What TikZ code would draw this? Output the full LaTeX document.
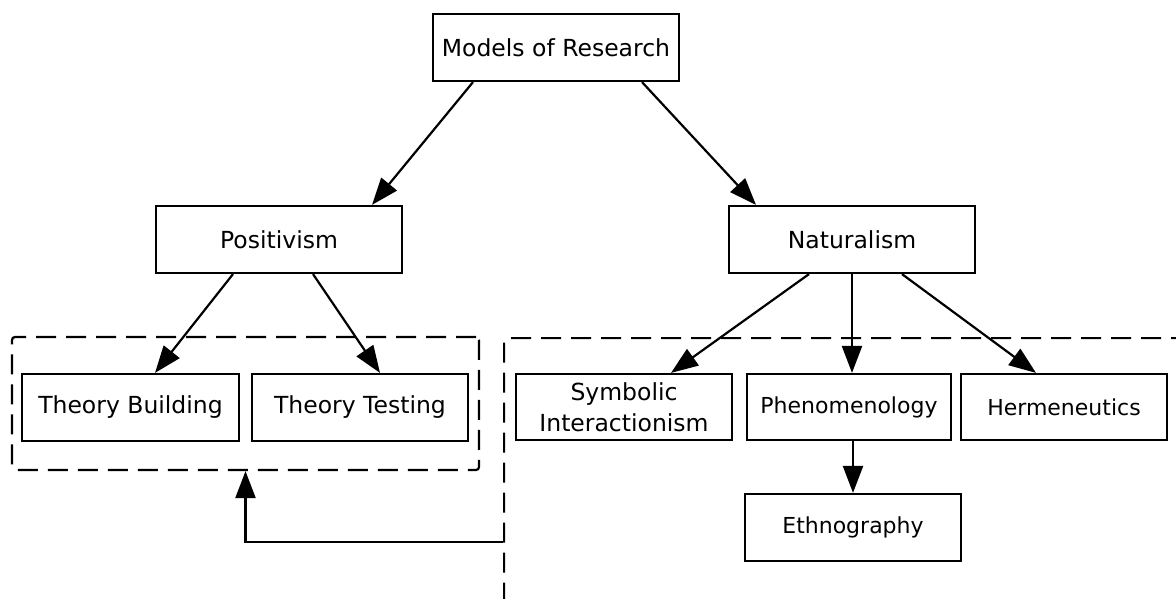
\documentclass[tikz,border=0pt]{standalone}
\usepackage{fontspec}
\setmainfont{DejaVu Sans}
\usetikzlibrary{arrows.meta}
\tikzset{
  box/.style={draw, line width=2.2pt, rectangle, inner sep=0pt, minimum height=67pt,
    align=center, font=\fontsize{23.5}{31}\selectfont},
  rbox/.style={box, font=\fontsize{22}{31}\selectfont},
  conn/.style={line width=2.2pt, -{Triangle[length=27pt,width=20pt]}},
  group/.style={draw, dash pattern=on 20pt off 10pt, line width=2.2pt,
    rounded corners=3pt, inner sep=0pt}
}
\begin{document}
\begin{tikzpicture}[x=1pt,y=-1pt]
\useasboundingbox (0,0) rectangle (1176,599);
\clip (0,0) rectangle (1176,599);

% groups
\node[group, minimum width=467pt, minimum height=133pt] (posgrp) at (245.5,403.5) {};
\node[group, minimum width=720pt, minimum height=320pt, anchor=north west] (natgrp) at (503,337) {};

% boxes
\node[box, minimum width=246pt] (models) at (556,47.5) {Models of Research};
\node[box, minimum width=246pt] (pos) at (279,239.5) {Positivism};
\node[box, minimum width=246pt] (nat) at (852,239.5) {Naturalism};
\node[box, minimum width=217pt] (tb) at (130.5,407.5) {Theory Building};
\node[box, minimum width=216pt] (tt) at (360,407.5) {Theory Testing};
\node[rbox, minimum width=216pt, minimum height=66pt, font=\fontsize{23.5}{31}\selectfont] (sym) at (624,407) {Symbolic\\Interactionism};
\node[rbox, minimum width=204pt, minimum height=66pt] (phen) at (849,407) {Phenomenology};
\node[rbox, minimum width=206pt, minimum height=66pt] (herm) at (1064,407) {Hermeneutics};
\node[rbox, minimum width=216pt] (eth) at (853,527.5) {Ethnography};

% connectors
\draw[conn] ([xshift=-83pt]models.south) -- ([xshift=93pt]pos.north);
\draw[conn] ([xshift=86pt]models.south) -- ([xshift=-96pt]nat.north);
\draw[conn] ([xshift=-46pt]pos.south) -- ([xshift=24.5pt]tb.north);
\draw[conn] ([xshift=34pt]pos.south) -- ([xshift=20pt]tt.north);
\draw[conn] ([xshift=-43pt]nat.south) -- ([xshift=47pt]sym.north);
\draw[conn] (nat.south) -- ([xshift=3pt]phen.north);
\draw[conn] ([xshift=50pt]nat.south) -- ([xshift=-28pt]herm.north);
\draw[conn] ([xshift=4pt]phen.south) -- (eth.north);

% feedback
\coordinate (fb) at (503,542);
\draw[conn] (fb) -| (posgrp.south);
\end{tikzpicture}
\end{document}
